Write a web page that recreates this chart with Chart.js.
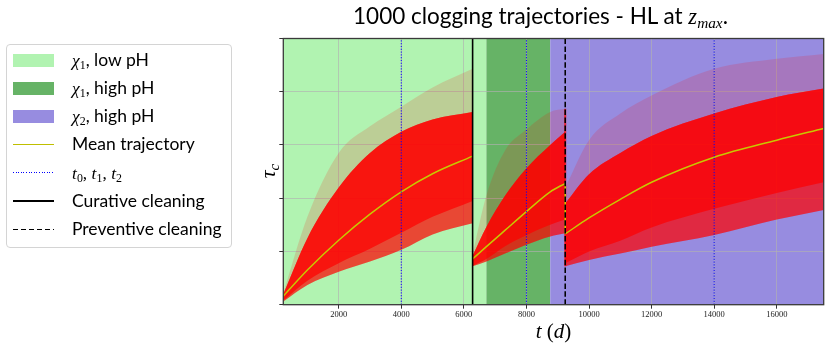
<!DOCTYPE html>
<html>
<head>
<meta charset="utf-8">
<script src="https://cdn.jsdelivr.net/npm/chart.js@4.4.1/dist/chart.umd.min.js"></script>
<style>
  html, body { margin: 0; padding: 0; background: #fff; }
  #wrap { position: relative; width: 830px; height: 347px; overflow: hidden; }
  #chart { position: absolute; left: 0; top: 0; }
  .sans { font-family: Lato, "Open Sans", sans-serif; }
  .m { font-family: "Liberation Serif", serif; font-style: italic; }
  .up { font-family: "Liberation Serif", serif; font-style: normal; }
  sub { font-size: 0.68em; vertical-align: -0.28em; line-height: 0; }
  #title { position: absolute; left: 270px; width: 541px; top: 5px; line-height: 1; text-align: center; font-size: 22.5px; white-space: nowrap; }
  #xlabel { position: absolute; left: 283px; width: 541px; top: 321px; line-height: 1; text-align: center; font-size: 21px; }
  #ylabel { position: absolute; left: 268px; top: 171px; line-height: 1; font-size: 22px; transform: translate(-50%, -50%) rotate(-90deg); white-space: nowrap; }
  #legend { position: absolute; left: 6px; top: 44px; width: 224px; height: 202px; border: 1px solid #d4d4d4; border-radius: 4px; background: #fff; }
  .row { position: absolute; left: 0; width: 224px; height: 28px; }
  .swatch { position: absolute; left: 6px; width: 41px; }
  .patch { height: 13px; top: 8px; }
  .label { position: absolute; left: 65px; top: 0; line-height: 28px; font-size: 17.5px; white-space: nowrap; color: #000; }
</style>
</head>
<body>
<div id="wrap">
  <canvas id="chart" width="830" height="347"></canvas>
  <div id="title" class="sans">1000 clogging trajectories - HL at <span class="m">z<sub>max</sub></span>.</div>
  <div id="xlabel"><span class="m">t</span> <span class="up">(</span><span class="m">d</span><span class="up">)</span></div>
  <div id="ylabel"><span class="m">τ<sub>c</sub></span></div>
  <div id="legend" class="sans">
    <div class="row" style="top:0.5px"><div class="swatch patch" style="background:#b1f3b1"></div><div class="label"><span class="m">χ</span><sub class="up">1</sub>, low pH</div></div>
    <div class="row" style="top:28.8px"><div class="swatch patch" style="background:#66b366"></div><div class="label"><span class="m">χ</span><sub class="up">1</sub>, high pH</div></div>
    <div class="row" style="top:57.1px"><div class="swatch patch" style="background:#978ce0"></div><div class="label"><span class="m">χ</span><sub class="up">2</sub>, high pH</div></div>
    <div class="row" style="top:85.4px"><div class="swatch" style="top:13.3px;height:1.5px;background:#bfbf00"></div><div class="label">Mean trajectory</div></div>
    <div class="row" style="top:113.7px"><div class="swatch" style="top:13.5px;height:1px;background:repeating-linear-gradient(90deg,#0000ff 0 1px,transparent 1px 2.6px)"></div><div class="label"><span class="m">t</span><sub class="up">0</sub><span class="up">, </span><span class="m">t</span><sub class="up">1</sub><span class="up">, </span><span class="m">t</span><sub class="up">2</sub></div></div>
    <div class="row" style="top:142px"><div class="swatch" style="top:13.3px;height:1.5px;background:#000"></div><div class="label">Curative cleaning</div></div>
    <div class="row" style="top:170.3px"><div class="swatch" style="top:13.3px;height:1.5px;background:repeating-linear-gradient(90deg,#000 0 5.5px,transparent 5.5px 8px)"></div><div class="label">Preventive cleaning</div></div>
  </div>
</div>
<script>
// axis ticks (days) and range
const dayMin = 230;
const dayMax = 17500;
const xTicks = [2000, 4000, 6000, 8000, 10000, 12000, 14000, 16000];
const yTicks = [0, 1, 2, 3, 4, 5];

// pH / chemistry periods, edges in days
const regionEdges = [230, 6720, 8760, 17500];
const regionColours = ['#b1f3b1', '#66b366', '#978ce0'];

// t0, t1, t2 and the two cleanings
const markerDays = [4000, 8000, 14000];
const curativeDay = 6280;
const preventiveDay = 9240;

// spread of the 1000 trajectories, read per segment:
// low = lowest trajectory, core = lower edge of the dense part,
// dense = upper edge of the dense part, high = highest trajectory
const seg1Days  = [230, 1000, 2000, 3000, 4000, 5000, 6280];
const seg1Low   = [0.06, 0.37, 0.62, 0.81, 1.03, 1.32, 1.53];
const seg1Core  = [0.08, 0.45, 0.78, 1.05, 1.35, 1.65, 1.95];
const seg1Mean  = [0.16, 0.65, 1.21, 1.70, 2.12, 2.46, 2.79];
const seg1Dense = [0.2, 1.25, 2.2, 2.85, 3.25, 3.48, 3.62];
const seg1High  = [0.22, 1.65, 2.85, 3.35, 3.72, 4.08, 4.43];

const seg2Days  = [6280, 6720, 7320, 7980, 8760, 9240];
const seg2Low   = [0.72, 0.81, 0.96, 1.12, 1.28, 1.34];
const seg2Core  = [0.73, 0.86, 1.1, 1.3, 1.5, 1.6];
const seg2Mean  = [0.86, 1.09, 1.40, 1.74, 2.12, 2.28];
const seg2Dense = [0.92, 1.46, 2.05, 2.55, 3.0, 3.25];
const seg2High  = [0.95, 2.05, 2.9, 3.28, 3.62, 3.68];

const seg3Days  = [9240, 10000, 11000, 12000, 14000, 16000, 17500];
const seg3Low   = [0.72, 0.84, 0.96, 1.09, 1.31, 1.6, 1.78];
const seg3Core  = [0.78, 1.0, 1.2, 1.45, 1.8, 2.1, 2.3];
const seg3Mean  = [1.33, 1.63, 1.98, 2.30, 2.77, 3.09, 3.31];
const seg3Dense = [1.9, 2.45, 2.85, 3.17, 3.59, 3.9, 4.06];
const seg3High  = [2.2, 3.09, 3.59, 3.93, 4.43, 4.62, 4.71];

function points(days, values) {
    return days.map((d, i) => ({x: d, y: values[i]}));
}

const datasets = [];

function line(data, colour, width, dash, order) {
    datasets.push({
        data: data,
        borderColor: colour,
        borderWidth: width,
        borderDash: dash,
        pointRadius: 0,
        fill: false,
        order: order
    });
}

// lower edge (invisible) plus upper edge filled down to it
function band(days, lower, upper, colour) {
    const lowerIndex = datasets.length;
    datasets.push({
        data: points(days, lower),
        borderWidth: 0,
        pointRadius: 0,
        cubicInterpolationMode: 'monotone',
        fill: false,
        order: 5
    });
    datasets.push({
        data: points(days, upper),
        borderWidth: 0,
        pointRadius: 0,
        cubicInterpolationMode: 'monotone',
        backgroundColor: colour,
        fill: {target: lowerIndex},
        order: 5
    });
}

function segment(days, low, core, dense, high) {
    band(days, low, high, 'rgba(255, 0, 0, 0.15)');
    band(days, low, dense, 'rgba(255, 0, 0, 0.65)');
    band(days, core, dense, 'rgba(255, 0, 0, 0.7)');
}

segment(seg1Days, seg1Low, seg1Core, seg1Dense, seg1High);
segment(seg2Days, seg2Low, seg2Core, seg2Dense, seg2High);
segment(seg3Days, seg3Low, seg3Core, seg3Dense, seg3High);

// trajectories dropping at the preventive cleaning
line([{x: preventiveDay, y: seg2High[seg2High.length - 1]}, {x: preventiveDay, y: seg3Low[0]}],
     'rgba(255, 0, 0, 0.75)', 2, [], 4);

for (const [days, mean] of [[seg1Days, seg1Mean], [seg2Days, seg2Mean], [seg3Days, seg3Mean]]) {
    datasets.push({
        data: points(days, mean),
        borderColor: '#c8c800',
        borderWidth: 1.5,
        pointRadius: 0,
        cubicInterpolationMode: 'monotone',
        fill: false,
        order: 3
    });
}
line([{x: preventiveDay, y: seg2Mean[seg2Mean.length - 1]}, {x: preventiveDay, y: seg3Mean[0]}],
     '#c8c800', 1.5, [], 3);

for (const d of markerDays) {
    line([{x: d, y: yTicks[0]}, {x: d, y: yTicks[yTicks.length - 1]}], '#0000ff', 1, [1.2, 1.6], 2);
}
line([{x: curativeDay, y: yTicks[0]}, {x: curativeDay, y: yTicks[yTicks.length - 1]}], '#000', 1.6, [], 1);
line([{x: preventiveDay, y: yTicks[0]}, {x: preventiveDay, y: yTicks[yTicks.length - 1]}], '#000', 1.6, [5.5, 2.4], 1);

const backdrop = {
    id: 'backdrop',
    beforeDraw(chart) {
        const {ctx, chartArea, scales} = chart;
        ctx.save();
        for (let i = 0; i < regionColours.length; i++) {
            const x0 = scales.x.getPixelForValue(regionEdges[i]);
            const x1 = scales.x.getPixelForValue(regionEdges[i + 1]);
            ctx.fillStyle = regionColours[i];
            ctx.fillRect(x0, chartArea.top, x1 - x0, chartArea.bottom - chartArea.top);
        }
        ctx.restore();
    },
    afterDraw(chart) {
        const {ctx, chartArea} = chart;
        ctx.save();
        ctx.strokeStyle = '#3a3a3a';
        ctx.lineWidth = 1.3;
        ctx.strokeRect(chartArea.left, chartArea.top, chartArea.right - chartArea.left, chartArea.bottom - chartArea.top);
        ctx.restore();
    }
};

new Chart(document.getElementById('chart'), {
    type: 'line',
    data: {datasets: datasets},
    options: {
        responsive: false,
        animation: false,
        events: [],
        layout: {padding: {left: 0, right: 6.3, top: 38.5, bottom: 0}},
        plugins: {
            legend: {display: false},
            title: {display: false},
            tooltip: {enabled: false}
        },
        scales: {
            x: {
                type: 'linear',
                min: dayMin,
                max: dayMax,
                afterBuildTicks: (scale) => { scale.ticks = xTicks.map(v => ({value: v})); },
                afterFit: (scale) => { scale.height = 42.3; },
                border: {display: false},
                grid: {color: 'rgba(176, 176, 176, 0.65)', lineWidth: 1, tickLength: 4, tickColor: '#333'},
                ticks: {
                    callback: (v) => String(v),
                    font: {family: 'Liberation Serif', size: 8.5},
                    color: '#222',
                    padding: 1,
                    maxRotation: 0,
                    autoSkip: false
                }
            },
            y: {
                type: 'linear',
                min: yTicks[0],
                max: yTicks[yTicks.length - 1],
                afterBuildTicks: (scale) => { scale.ticks = yTicks.map(v => ({value: v})); },
                afterFit: (scale) => { scale.width = 283.3; },
                border: {display: false},
                grid: {color: 'rgba(176, 176, 176, 0.65)', lineWidth: 1, tickLength: 4, tickColor: '#333'},
                ticks: {callback: () => '', padding: 0}
            }
        }
    },
    plugins: [backdrop]
});
</script>
</body>
</html>
